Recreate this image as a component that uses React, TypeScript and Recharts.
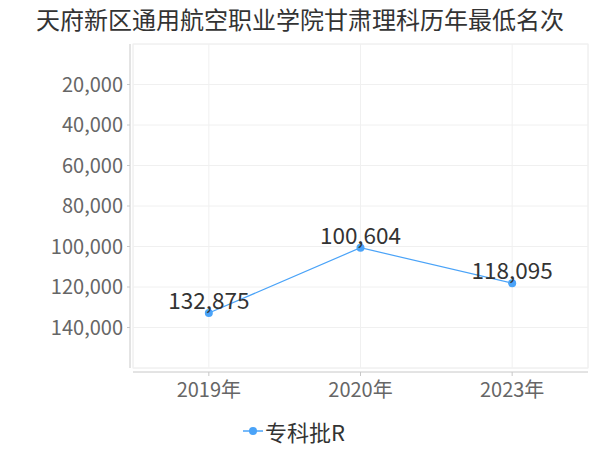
import React from "react";
import {
  LineChart,
  Line,
  XAxis,
  YAxis,
  CartesianGrid,
  Legend,
  LabelList,
  Customized,
} from "recharts";

const TITLE = "天府新区通用航空职业学院甘肃理科历年最低名次";
const SERIES_NAME = "专科批R";
const years = ["2019年", "2020年", "2023年"];
const ranks = [132875, 100604, 118095];
const yTicks = [0, 20000, 40000, 60000, 80000, 100000, 120000, 140000, 160000];

const FONT = '"Noto Sans CJK SC", "Noto Sans", sans-serif';
const BLUE = "#4aa3f8";
const GRID = "#f0f0f0";
const AXIS = "#c8c8c8";

// plot box (matches the chart margins below)
const W = 600;
const H = 450;
const LEFT = 133;
const RIGHT = 588;
const TOP = 44;
const BOTTOM = 368;

const data = years.map((year, i) => ({ year, rank: ranks[i] }));

const fmt = (v: number) => v.toLocaleString("en-US");

const YTick = (props: any) => {
  const { y, payload } = props;
  if (payload.value === 0 || payload.value === 160000) return null;
  return (
    <g>
      <line x1={LEFT - 6} x2={LEFT - 3} y1={y} y2={y} stroke={AXIS} />
      <text
        x={LEFT - 10}
        y={y}
        dy="0.35em"
        textAnchor="end"
        fontSize={20}
        fill="#666"
        fontFamily={FONT}
      >
        {fmt(payload.value)}
      </text>
    </g>
  );
};

const XTick = (props: any) => {
  const { x, payload } = props;
  return (
    <g>
      <line x1={x} x2={x} y1={BOTTOM + 4} y2={BOTTOM + 8} stroke={AXIS} />
      <text
        x={x}
        y={BOTTOM + 29}
        textAnchor="middle"
        fontSize={20}
        fill="#666"
        fontFamily={FONT}
      >
        {payload.value}
      </text>
    </g>
  );
};

const Frame = () => (
  <g>
    <rect
      x={LEFT}
      y={TOP}
      width={RIGHT - LEFT}
      height={BOTTOM - TOP}
      fill="none"
      stroke={GRID}
    />
    <line x1={LEFT - 3} x2={LEFT - 3} y1={TOP} y2={BOTTOM} stroke={AXIS} />
    <line x1={LEFT} x2={RIGHT} y1={BOTTOM + 4} y2={BOTTOM + 4} stroke={AXIS} />
  </g>
);

const LegendContent = () => (
  <div
    style={{
      display: "flex",
      justifyContent: "center",
      alignItems: "center",
      height: 30,
      fontFamily: FONT,
      fontSize: 22,
      color: "#333",
    }}
  >
    <svg width={20} height={10} style={{ marginRight: 2 }}>
      <line x1={0} x2={20} y1={5} y2={5} stroke={BLUE} strokeWidth={1.5} />
      <circle cx={10} cy={5} r={4} fill={BLUE} />
    </svg>
    <span>{SERIES_NAME}</span>
  </div>
);

export default function App() {
  return (
    <div
      style={{
        position: "absolute",
        top: 0,
        left: 0,
        width: W,
        height: H,
        background: "#fff",
        fontFamily: FONT,
      }}
    >
      <div
        style={{
          position: "absolute",
          top: 4,
          left: 0,
          width: W,
          textAlign: "center",
          fontSize: 24,
          lineHeight: "30px",
          color: "#333",
        }}
      >
        {TITLE}
      </div>
      <LineChart
        width={W}
        height={H}
        data={data}
        margin={{ top: TOP, right: W - RIGHT, bottom: 16, left: 0 }}
      >
        <CartesianGrid stroke={GRID} />
        <Customized component={Frame} />
        <XAxis
          dataKey="year"
          scale="band"
          height={36}
          axisLine={false}
          tickLine={false}
          tick={<XTick />}
          interval={0}
        />
        <YAxis
          width={LEFT}
          reversed
          domain={[0, 160000]}
          ticks={yTicks}
          axisLine={false}
          tickLine={false}
          tick={<YTick />}
          interval={0}
        />
        <Legend
          verticalAlign="bottom"
          content={<LegendContent />}
          wrapperStyle={{ bottom: 4 }}
        />
        <Line
          type="linear"
          dataKey="rank"
          name={SERIES_NAME}
          stroke={BLUE}
          strokeWidth={1.2}
          dot={{ r: 4, fill: BLUE, stroke: "none" }}
          isAnimationActive={false}
        >
          <LabelList
            dataKey="rank"
            position="top"
            offset={4}
            formatter={(v: any) => fmt(Number(v))}
            style={{ fontSize: 22.5, fill: "#333", fontFamily: FONT }}
          />
        </Line>
      </LineChart>
    </div>
  );
}
